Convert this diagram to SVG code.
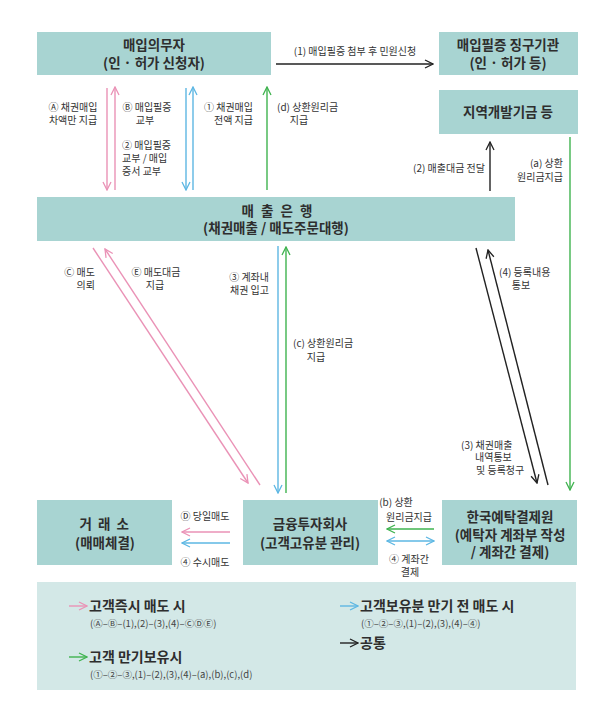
<svg xmlns="http://www.w3.org/2000/svg" width="609" height="718" viewBox="0 0 609 718">
<defs>
<style>
.box{fill:#a8d4d2}
.leg{fill:#d3e8e7}
.t{font-family:"Noto Sans CJK KR","Noto Sans",sans-serif;font-weight:700;font-size:13.5px;fill:#2e2e2e;text-anchor:middle}
.s{font-family:"Noto Sans CJK KR","Noto Sans",sans-serif;font-size:10px;fill:#333}
.lt{font-family:"Noto Sans CJK KR","Noto Sans",sans-serif;font-weight:700;font-size:14px;fill:#2e2e2e}
.ls{font-family:"Noto Sans CJK KR","Noto Sans",sans-serif;font-size:9.5px;fill:#444}
.pk{stroke:#ea92b6;stroke-width:1.4;fill:none}
.bl{stroke:#5db7e3;stroke-width:1.4;fill:none}
.gr{stroke:#3fb34f;stroke-width:1.4;fill:none}
.bk{stroke:#222;stroke-width:1.4;fill:none}
</style>
<marker id="mp" viewBox="0 0 10 10" refX="9" refY="5" markerWidth="10" markerHeight="10" markerUnits="userSpaceOnUse" orient="auto-start-reverse"><path d="M1,1 L9,5 L1,9" fill="none" stroke="#ea92b6" stroke-width="1.3"/></marker>
<marker id="mb" viewBox="0 0 10 10" refX="9" refY="5" markerWidth="10" markerHeight="10" markerUnits="userSpaceOnUse" orient="auto-start-reverse"><path d="M1,1 L9,5 L1,9" fill="none" stroke="#5db7e3" stroke-width="1.3"/></marker>
<marker id="mg" viewBox="0 0 10 10" refX="9" refY="5" markerWidth="10" markerHeight="10" markerUnits="userSpaceOnUse" orient="auto-start-reverse"><path d="M1,1 L9,5 L1,9" fill="none" stroke="#3fb34f" stroke-width="1.3"/></marker>
<marker id="mk" viewBox="0 0 10 10" refX="9" refY="5" markerWidth="10" markerHeight="10" markerUnits="userSpaceOnUse" orient="auto-start-reverse"><path d="M1,1 L9,5 L1,9" fill="none" stroke="#222" stroke-width="1.3"/></marker>
</defs>
<rect width="609" height="718" fill="#fff"/>

<g id="buyer">
<rect class="box" x="37" y="32" width="234" height="43"/>
<text class="t" x="154" y="50">매입의무자</text>
<text class="t" x="154" y="68">(인 · 허가 신청자)</text>
</g>
<g id="agency">
<rect class="box" x="439" y="32" width="139" height="43"/>
<text class="t" x="508" y="50">매입필증 징구기관</text>
<text class="t" x="508" y="68">(인 · 허가 등)</text>
</g>
<g id="fund">
<rect class="box" x="439" y="90" width="139" height="44"/>
<text class="t" x="508" y="117">지역개발기금 등</text>
</g>
<g id="bank">
<rect class="box" x="37" y="197" width="478" height="44"/>
<text class="t" x="278" y="216" letter-spacing="2">매 출 은 행</text>
<text class="t" x="276" y="233">(채권매출 / 매도주문대행)</text>
</g>
<g id="exchange">
<rect class="box" x="37" y="500" width="135" height="65"/>
<text class="t" x="105" y="529" letter-spacing="1.5">거 래 소</text>
<text class="t" x="105" y="548">(매매체결)</text>
</g>
<g id="broker">
<rect class="box" x="243" y="500" width="135" height="65"/>
<text class="t" x="310" y="529">금융투자회사</text>
<text class="t" x="310" y="548">(고객고유분 관리)</text>
</g>
<g id="ksd">
<rect class="box" x="442" y="500" width="135" height="65"/>
<text class="t" x="510" y="522">한국예탁결제원</text>
<text class="t" x="510" y="540">(예탁자 계좌부 작성</text>
<text class="t" x="510" y="557">/ 계좌간 결제)</text>
</g>

<g id="connectors">
<line class="bk" x1="276" y1="64" x2="433" y2="64" marker-end="url(#mk)"/>
<line class="pk" x1="107" y1="88" x2="107" y2="190" marker-end="url(#mp)"/>
<line class="pk" x1="115" y1="190" x2="115" y2="87" marker-end="url(#mp)"/>
<line class="bl" x1="186" y1="88" x2="186" y2="190" marker-end="url(#mb)"/>
<line class="bl" x1="193" y1="190" x2="193" y2="87" marker-end="url(#mb)"/>
<line class="gr" x1="267" y1="190" x2="267" y2="87" marker-end="url(#mg)"/>
<line class="bk" x1="490" y1="191" x2="490" y2="142" marker-end="url(#mk)"/>
<line class="gr" x1="570" y1="137" x2="570" y2="490" marker-end="url(#mg)"/>
<line class="pk" x1="93" y1="248" x2="248" y2="483" marker-end="url(#mp)"/>
<line class="pk" x1="260" y1="485" x2="105" y2="249" marker-end="url(#mp)"/>
<line class="bl" x1="278" y1="246" x2="278" y2="493" marker-end="url(#mb)"/>
<line class="gr" x1="286" y1="493" x2="286" y2="247" marker-end="url(#mg)"/>
<line class="bk" x1="476" y1="248" x2="537" y2="483" marker-end="url(#mk)"/>
<line class="bk" x1="548" y1="485" x2="488" y2="250" marker-end="url(#mk)"/>
<line class="pk" x1="230" y1="532" x2="182" y2="532" marker-end="url(#mp)"/>
<line class="bl" x1="230" y1="543" x2="182" y2="543" marker-end="url(#mb)"/>
<line class="gr" x1="434" y1="529" x2="387" y2="529" marker-end="url(#mg)"/>
<line class="bl" x1="387" y1="541" x2="434" y2="541" marker-start="url(#mb)" marker-end="url(#mb)"/>
</g>

<g id="labels">
<text class="s" x="355" y="55" text-anchor="middle">(1) 매입필증 첨부 후 민원신청</text>
<text class="s" x="73" y="111" text-anchor="middle">Ⓐ 채권매입</text>
<text class="s" x="73" y="124" text-anchor="middle">차액만 지급</text>
<text class="s" x="147" y="111" text-anchor="middle">Ⓑ 매입필증</text>
<text class="s" x="145" y="124" text-anchor="middle">교부</text>
<text class="s" x="122" y="149">② 매입필증</text>
<text class="s" x="122" y="162">교부 / 매입</text>
<text class="s" x="122" y="175">증서 교부</text>
<text class="s" x="253" y="111" text-anchor="end">① 채권매입</text>
<text class="s" x="253" y="124" text-anchor="end">전액 지급</text>
<text class="s" x="277" y="111">(d) 상환원리금</text>
<text class="s" x="299" y="124" text-anchor="middle">지급</text>
<text class="s" x="485" y="172" text-anchor="end">(2) 매출대금 전달</text>
<text class="s" x="563" y="167" text-anchor="end">(a) 상환</text>
<text class="s" x="563" y="181" text-anchor="end">원리금지급</text>
<text class="s" x="95" y="276" text-anchor="end">Ⓒ 매도</text>
<text class="s" x="95" y="289" text-anchor="end">의뢰</text>
<text class="s" x="156" y="276" text-anchor="middle">Ⓔ 매도대금</text>
<text class="s" x="155" y="289" text-anchor="middle">지급</text>
<text class="s" x="269" y="281" text-anchor="end">③ 계좌내</text>
<text class="s" x="269" y="294" text-anchor="end">채권 입고</text>
<text class="s" x="293" y="347">(c) 상환원리금</text>
<text class="s" x="316" y="361" text-anchor="middle">지급</text>
<text class="s" x="499" y="276">(4) 등록내용</text>
<text class="s" x="521" y="289" text-anchor="middle">통보</text>
<text class="s" x="461" y="449">(3) 채권매출</text>
<text class="s" x="475" y="461">내역통보</text>
<text class="s" x="476" y="474">및 등록청구</text>
<text class="s" x="205" y="520" text-anchor="middle">Ⓓ 당일매도</text>
<text class="s" x="205" y="566" text-anchor="middle">④ 수시매도</text>
<text class="s" x="396" y="506" text-anchor="middle">(b) 상환</text>
<text class="s" x="409" y="521" text-anchor="middle">원리금지급</text>
<text class="s" x="409" y="563" text-anchor="middle">④ 계좌간</text>
<text class="s" x="410" y="576" text-anchor="middle">결제</text>
</g>

<g id="legend">
<rect class="leg" x="37" y="582" width="539" height="108"/>
<line class="pk" x1="69" y1="606" x2="87" y2="606" marker-end="url(#mp)"/>
<text class="lt" x="89" y="611">고객즉시 매도 시</text>
<text class="ls" x="90" y="627">(Ⓐ–Ⓑ–(1),(2)–(3),(4)–ⒸⒹⒺ)</text>
<line class="gr" x1="69" y1="657" x2="87" y2="657" marker-end="url(#mg)"/>
<text class="lt" x="89" y="662">고객 만기보유시</text>
<text class="ls" x="90" y="678">(①–②–③,(1)–(2),(3),(4)–(a),(b),(c),(d)</text>
<line class="bl" x1="340" y1="606" x2="358" y2="606" marker-end="url(#mb)"/>
<text class="lt" x="360" y="611">고객보유분 만기 전 매도 시</text>
<text class="ls" x="361" y="627">(①–②–③,(1)–(2),(3),(4)–④)</text>
<line class="bk" x1="340" y1="643" x2="358" y2="643" marker-end="url(#mk)"/>
<text class="lt" x="360" y="648">공통</text>
</g>
</svg>
